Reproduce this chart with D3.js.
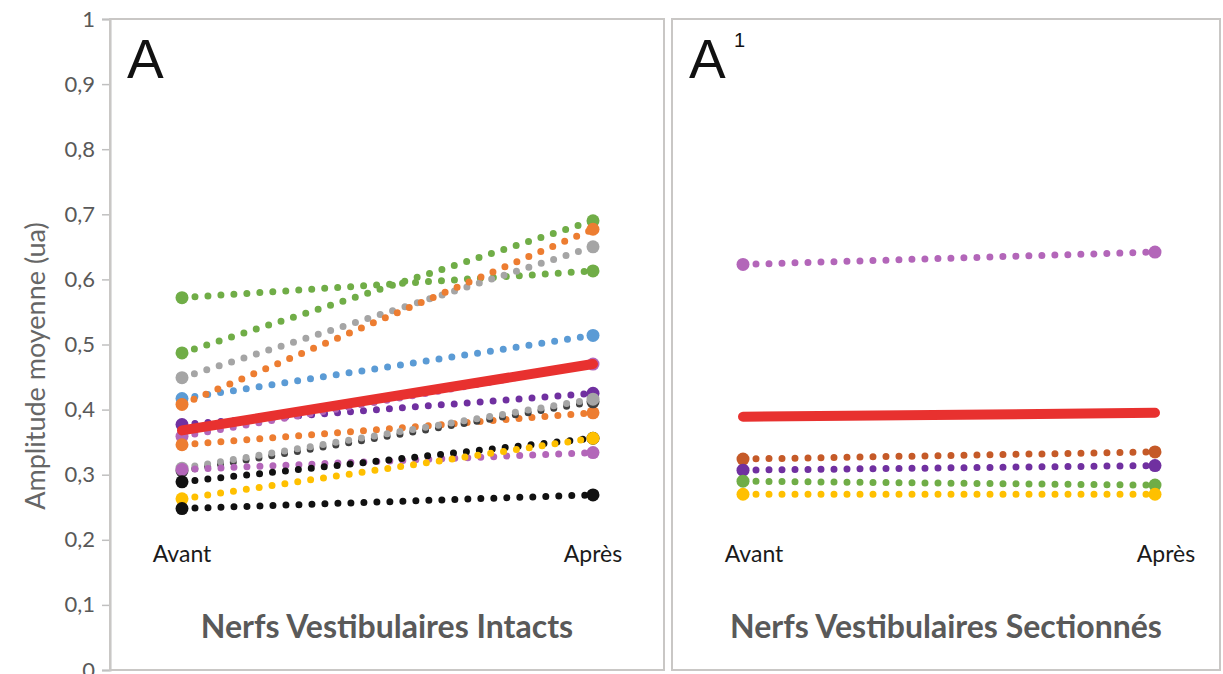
<!DOCTYPE html>
<html><head><meta charset="utf-8">
<script src="https://cdn.jsdelivr.net/npm/d3@7"></script>
<style>
html,body{margin:0;padding:0;background:#fff;}
svg{display:block;}
</style>
</head><body>
<svg id="chart" width="1223" height="674"></svg>
<script>
// ---------- data ----------
const phases = ["Avant", "Après"];
const yTickValues = [0, 0.1, 0.2, 0.3, 0.4, 0.5, 0.6, 0.7, 0.8, 0.9, 1];
const yTickLabels = ["0", "0,1", "0,2", "0,3", "0,4", "0,5", "0,6", "0,7", "0,8", "0,9", "1"];
const yAxisTitle = "Amplitude moyenne (ua)";

// Panel A : nerfs vestibulaires intacts (individual recordings)
const intactColors = ["#70ad47", "#70ad47", "#a5a5a5", "#5b9bd5", "#ed7d31", "#7030a0", "#b366b9", "#ed7d31", "#404040", "#a5a5a5", "#b366b9", "#111111", "#ffc000", "#111111"];
const intactAvant  = [0.572, 0.487, 0.449, 0.417, 0.408, 0.377, 0.359, 0.346, 0.306, 0.310, 0.308, 0.289, 0.263, 0.248];
const intactApres  = [0.613, 0.690, 0.650, 0.514, 0.677, 0.425, 0.470, 0.395, 0.412, 0.416, 0.334, 0.356, 0.356, 0.269];
const intactMean   = [0.368, 0.470];

// Panel A1 : nerfs vestibulaires sectionnés
const sectColors = ["#b366b9", "#c55a28", "#7030a0", "#70ad47", "#ffc000"];
const sectAvant  = [0.623, 0.324, 0.307, 0.290, 0.270];
const sectApres  = [0.642, 0.335, 0.314, 0.284, 0.270];
const sectMean   = [0.389, 0.395];

const panelTitles = ["Nerfs Vestibulaires Intacts", "Nerfs Vestibulaires Sectionnés"];
const panelLetters = ["A", "A"];
const panelSup = ["", "1"];

// ---------- layout ----------
const svg = d3.select("#chart");
const FONT = "Lato, 'Open Sans', sans-serif";
const yTop = 19, yBottom = 670;
const panels = [
  {x0: 110, x1: 664, xr: [182, 593], lab: 0, colors: intactColors, avant: intactAvant, apres: intactApres, mean: intactMean},
  {x0: 672, x1: 1220, xr: [743, 1155], lab: 11, colors: sectColors, avant: sectAvant, apres: sectApres, mean: sectMean}
];
const y = d3.scaleLinear().domain([0, 1]).range([yBottom, yTop]);

// y axis
const yAxis = d3.axisLeft(y).tickValues(yTickValues)
  .tickFormat((d, i) => yTickLabels[i]).tickSize(8).tickPadding(7);
const gy = svg.append("g").attr("transform", `translate(${panels[0].x0},0)`).call(yAxis);
gy.select(".domain").attr("stroke", "#c0c0c0").attr("stroke-width", 2);
gy.selectAll(".tick line").attr("stroke", "#c0c0c0").attr("stroke-width", 1.5);
gy.selectAll(".tick text").attr("fill", "#595959").attr("font-family", FONT).attr("font-size", 22);

svg.append("text")
  .attr("transform", `translate(45,366) rotate(-90)`)
  .attr("text-anchor", "middle")
  .attr("fill", "#666666").attr("font-family", FONT).attr("font-size", 27)
  .text(yAxisTitle);

const line = d3.line();

panels.forEach((p, pi) => {
  const x = d3.scalePoint().domain(phases).range(p.xr);
  const g = svg.append("g");
  // frame
  g.append("rect").attr("x", p.x0).attr("y", yTop).attr("width", p.x1 - p.x0).attr("height", yBottom - yTop)
    .attr("fill", "none").attr("stroke", "#c9c7c5").attr("stroke-width", 2);

  const series = p.avant.map((v, i) => ({c: p.colors[i], vals: [v, p.apres[i]]}));
  // dotted lines
  series.forEach(s => {
    const pts = phases.map((ph, k) => [x(ph), y(s.vals[k])]);
    g.append("path").attr("d", line(pts)).attr("fill", "none")
      .attr("stroke", s.c).attr("stroke-width", 7).attr("stroke-linecap", "round")
      .attr("stroke-dasharray", "0 13");
    g.selectAll(null).data(pts).enter().append("circle")
      .attr("cx", d => d[0]).attr("cy", d => d[1]).attr("r", 6.5).attr("fill", s.c);
  });
  // mean line
  g.append("path").attr("d", line(phases.map((ph, k) => [x(ph), y(p.mean[k])])))
    .attr("fill", "none").attr("stroke", "#e8312f").attr("stroke-width", 10).attr("stroke-linecap", "round");

  // category labels
  phases.forEach(ph => {
    g.append("text").attr("x", x(ph) + p.lab).attr("y", 562).attr("text-anchor", "middle")
      .attr("fill", "#1a1a1a").attr("font-family", FONT).attr("font-size", 23).text(ph);
  });
  // panel title
  g.append("text").attr("x", (p.x0 + p.x1) / 2).attr("y", 638).attr("text-anchor", "middle")
    .attr("fill", "#595959").attr("font-family", FONT).attr("font-weight", "bold").attr("font-size", 32)
    .text(panelTitles[pi]);
  // letter
  g.append("text").attr("x", p.x0 + 17).attr("y", 78)
    .attr("fill", "#111").attr("font-family", "'Liberation Sans', Arial, sans-serif").attr("font-size", 55)
    .text(panelLetters[pi]);
  if (panelSup[pi]) {
    g.append("text").attr("x", p.x0 + 62).attr("y", 47)
      .attr("fill", "#111").attr("font-family", "'Liberation Sans', Arial, sans-serif").attr("font-size", 20)
      .text(panelSup[pi]);
  }
});
</script>
</body></html>
